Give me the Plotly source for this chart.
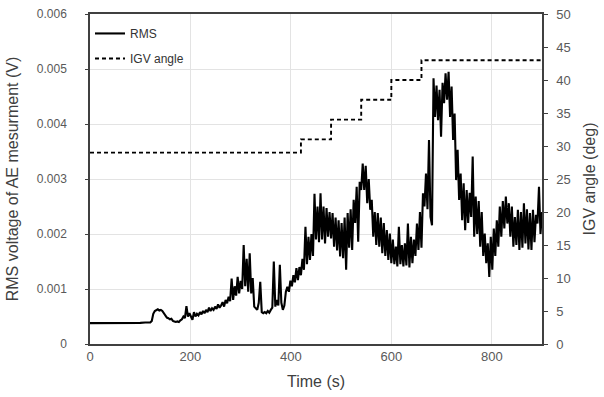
import plotly.graph_objects as go

# ---- data ----
# flat baseline part
t_base = [0, 10, 20, 30, 40, 50, 60, 70, 80, 90, 100, 110, 120]
rms_base_mv = [0.38, 0.38, 0.375, 0.38, 0.385, 0.375, 0.38, 0.38, 0.385, 0.38, 0.385, 0.39, 0.39]

# dense part, one value every 3 s from 123 s to 900 s (10 values per row = 30 s)
t_dense = list(range(123, 901, 3))
rms_dense_mv = [
    0.42, 0.55, 0.60, 0.62, 0.63, 0.61, 0.62, 0.60, 0.56, 0.50,   # 123-150
    0.48, 0.47, 0.45, 0.46, 0.42, 0.41, 0.40, 0.41, 0.40, 0.43,   # 153-180
    0.45, 0.50, 0.47, 0.69, 0.50, 0.56, 0.48, 0.44, 0.58, 0.50,   # 183-210
    0.55, 0.52, 0.58, 0.54, 0.60, 0.56, 0.62, 0.58, 0.66, 0.60,   # 213-240
    0.65, 0.62, 0.68, 0.64, 0.72, 0.66, 0.70, 0.76, 0.68, 0.80,   # 243-270
    0.74, 0.86, 0.78, 1.19, 0.80, 1.05, 0.88, 1.22, 0.92, 1.15,   # 273-300
    1.00, 1.80, 1.05, 1.55, 0.95, 1.65, 0.92, 1.20, 0.68, 0.65,   # 303-330
    0.62, 0.75, 1.13, 0.58, 0.56, 0.58, 0.56, 0.60, 0.57, 0.62,   # 333-360
    0.66, 1.50, 0.68, 0.80, 0.70, 1.44, 0.75, 0.62, 0.70, 0.95,   # 363-390
    1.04, 0.95, 1.15, 1.05, 1.25, 1.12, 1.38, 1.16, 1.40, 1.25,   # 393-420
    1.55, 1.35, 2.13, 1.45, 1.95, 1.53, 2.00, 1.60, 2.73, 1.90,   # 423-450
    2.50, 1.85, 2.74, 1.90, 2.50, 1.83, 2.47, 1.95, 2.40, 1.92,   # 453-480
    2.38, 1.77, 2.30, 1.70, 2.25, 1.59, 2.20, 1.56, 2.30, 1.35,   # 483-510
    2.38, 1.75, 2.45, 1.71, 2.62, 2.20, 2.86, 1.86, 2.95, 2.80,   # 513-540
    3.28, 2.80, 3.24, 2.56, 3.00, 2.44, 2.62, 1.95, 2.40, 1.80,   # 543-570
    2.38, 1.77, 2.30, 1.65, 2.20, 1.60, 2.07, 1.53, 2.01, 1.47,   # 573-600
    1.90, 1.45, 1.77, 1.41, 2.13, 1.45, 1.80, 1.41, 1.83, 1.43,   # 603-630
    2.19, 1.39, 1.95, 1.47, 1.90, 1.60, 2.19, 1.71, 2.40, 1.75,   # 633-660
    2.74, 2.50, 3.10, 2.45, 3.71, 2.31, 2.16, 4.83, 4.13, 4.70,   # 663-690
    4.07, 4.62, 3.77, 4.75, 4.38, 4.92, 4.44, 4.95, 4.13, 4.68,   # 693-720
    3.71, 4.19, 2.98, 3.53, 2.62, 3.10, 2.25, 2.92, 2.07, 2.80,   # 723-750
    2.20, 2.75, 2.31, 3.41, 1.95, 2.68, 2.00, 2.60, 1.77, 2.40,   # 753-780
    1.60, 2.01, 1.47, 1.83, 1.22, 1.95, 1.35, 2.10, 1.60, 2.25,   # 783-810
    1.77, 2.50, 1.95, 2.60, 2.10, 2.68, 2.19, 2.56, 1.95, 2.50,   # 813-840
    1.77, 2.31, 1.80, 2.44, 1.71, 2.40, 1.75, 2.56, 1.83, 2.45,   # 843-870
    1.72, 2.38, 1.71, 2.44, 1.85, 2.35, 2.19, 2.86, 2.00, 2.40,   # 873-900
]

time_s = t_base + t_dense
rms_v = [v / 1000.0 for v in rms_base_mv + rms_dense_mv]

# IGV angle step changes
igv_time_s = [0, 420, 420, 480, 480, 540, 540, 600, 600, 660, 660, 900]
igv_angle_deg = [29, 29, 31, 31, 34, 34, 37, 37, 40, 40, 43, 43]

FONT = "Liberation Sans, Arial, sans-serif"
TICK_COL = "#595959"
TITLE_COL = "#404040"
AXIS_COL = "#404040"
GRID_COL = "#e3e3e3"

fig = go.Figure()
fig.add_trace(go.Scatter(
    x=time_s, y=rms_v, mode="lines", name="RMS",
    line=dict(color="black", width=2.1), legendgroup="a",
))
fig.add_trace(go.Scatter(
    x=igv_time_s, y=igv_angle_deg, mode="lines", name="IGV angle",
    line=dict(color="black", width=1.9, dash="4px,3px"), yaxis="y2", legendgroup="b",
))

fig.update_layout(
    width=604, height=397,
    margin=dict(l=90, r=62, t=14, b=53),
    plot_bgcolor="white", paper_bgcolor="white",
    font=dict(family=FONT, color=TICK_COL, size=12),
    showlegend=True,
    legend=dict(
        x=0.0, y=0.985, xanchor="left", yanchor="top",
        bgcolor="rgba(0,0,0,0)", font=dict(size=12, color="#333333", family=FONT),
        tracegroupgap=6, itemwidth=30,
    ),
    xaxis=dict(
        range=[0, 900], dtick=200, tick0=0,
        showgrid=True, gridcolor=GRID_COL, gridwidth=1,
        showline=True, linecolor=AXIS_COL, linewidth=1.5, mirror=True,
        ticks="", zeroline=False,
        tickfont=dict(size=13, color=TICK_COL),
        title=dict(text="Time (s)", font=dict(size=16, color=TITLE_COL), standoff=12),
        automargin=False,
    ),
    yaxis=dict(
        range=[0, 0.006], dtick=0.001, tick0=0,
        showgrid=True, gridcolor=GRID_COL, gridwidth=1,
        showline=True, linecolor=AXIS_COL, linewidth=1.5,
        ticks="outside", ticklen=3, tickcolor=AXIS_COL, zeroline=False,
        tickfont=dict(size=12, color=TICK_COL),
        ticklabelstandoff=16,
        title=dict(text="RMS voltage of AE mesurment (V)", font=dict(size=16, color=TITLE_COL), standoff=14),
        automargin=False,
    ),
    yaxis2=dict(
        range=[0, 50], dtick=5, tick0=0, overlaying="y", side="right",
        showgrid=False, showline=True, linecolor=AXIS_COL, linewidth=1.5,
        ticks="outside", ticklen=4, tickcolor=AXIS_COL, zeroline=False,
        tickfont=dict(size=13, color=TICK_COL),
        ticklabelstandoff=6,
        title=dict(text="IGV angle (deg)", font=dict(size=16, color=TITLE_COL), standoff=14),
        automargin=False,
    ),
)

fig.write_html("out.html")
